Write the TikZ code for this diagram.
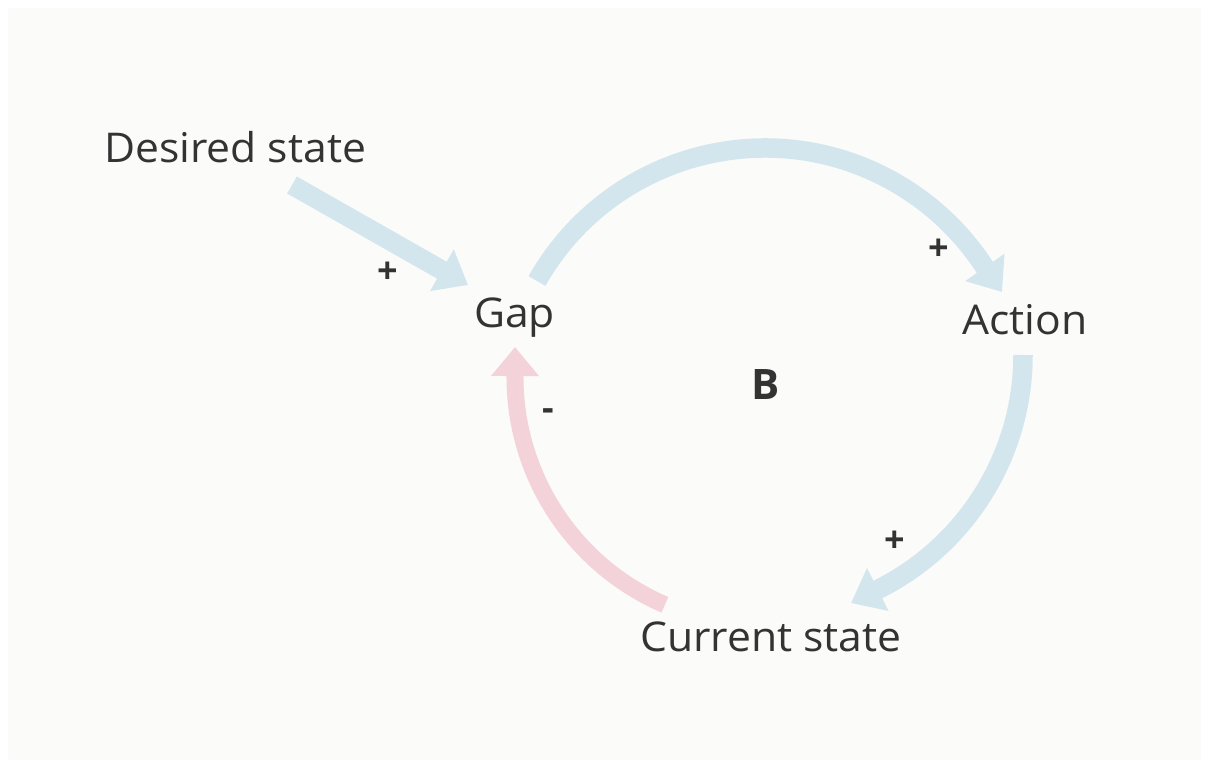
\documentclass[tikz,border=0pt]{standalone}
\usepackage{fontspec}
\setmainfont{Open Sans}[Ligatures=NoCommon,FakeStretch=1.04]
\newfontfamily\signfont{Open Sans}
\usetikzlibrary{arrows.meta}
\definecolor{bgc}{HTML}{FBFBF9}
\definecolor{bluec}{HTML}{D3E6EE}
\definecolor{pinkc}{HTML}{F3D3D9}
\definecolor{txt}{HTML}{333333}
\begin{document}
\begin{tikzpicture}[x=1pt,y=-1pt,
  lbl/.style={anchor=base west,inner sep=0pt,text=txt,font=\fontsize{41}{43}\selectfont},
  sgn/.style={anchor=center,inner sep=0pt,text=txt,font=\signfont\fontsize{36}{38}\selectfont\bfseries},
  bluelink/.style={draw=bluec,line width=19.5pt,line cap=butt,-{Triangle[length=30pt,width=46pt,fill=bluec]}},
  pinklink/.style={draw=pinkc,line width=17pt,line cap=butt,-{Triangle[length=29pt,width=46pt,fill=pinkc]}}]
\useasboundingbox (0,0) rectangle (1209,768);
\fill[white] (0,0) rectangle (1209,768);
\fill[bgc] (8,8) rectangle (1201,760);
% texts
\node[lbl] (desired) at (104,162) {Desired state};
\node[lbl] (gap) at (474,327) {Gap};
\node[lbl] (action) at (962,334) {Action};
\node[lbl] (current) at (640,651) {Current state};
\node[anchor=center,inner sep=0pt,text=txt,font=\signfont\fontsize{42}{44}\selectfont\bfseries] (loop) at (766,385) {B};
\node[sgn] (p1) at (388,273) {+};
\node[sgn] (p2) at (939,250) {+};
\node[sgn] (p3) at (895,542) {+};
\node[sgn] (m1) at (548.5,414.5) {-};
% connector ends
\coordinate (ds) at (292,185);
\coordinate (dt) at (468,285);
\coordinate (g1) at (537,281);
\coordinate (a1) at (1002,292);
\coordinate (a2) at (1023,355);
\coordinate (c2) at (851,603);
\coordinate (c3) at (664.9,604.8);
\coordinate (g3) at (515,347);
% connectors
\draw[bluelink] (ds) -- (dt);
\draw[bluelink] (g1) arc[start angle=-150.5,end angle=-33,radius=262] -- (a1);
\draw[bluelink] (a2) arc[start angle=0,end angle=63.7,radius=262] -- (c2);
\draw[pinklink] (c3) arc[start angle=113.3,end angle=180,radius=248] -- (g3);
\end{tikzpicture}
\end{document}
